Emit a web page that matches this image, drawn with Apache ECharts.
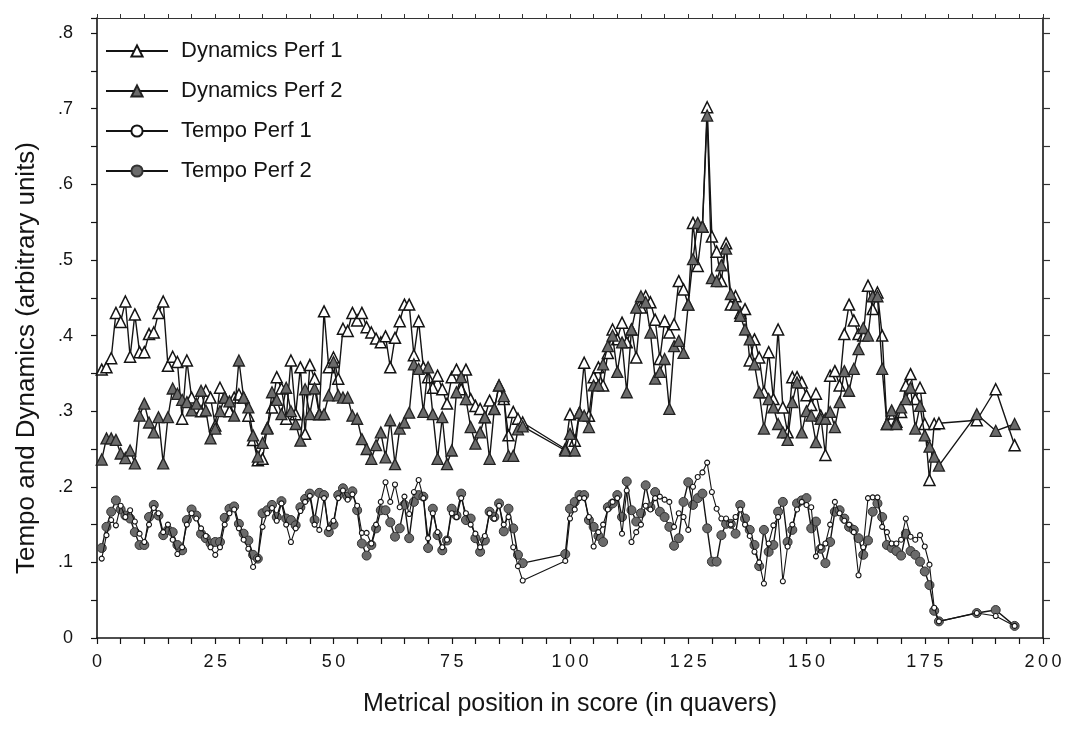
<!DOCTYPE html>
<html><head><meta charset="utf-8">
<script src="https://cdn.jsdelivr.net/npm/echarts@6/dist/echarts.min.js"></script>
<style>html,body{margin:0;padding:0;background:#fff}#c{width:1075px;height:731px}</style>
</head><body><div id="c"></div><script>
// Metrical positions (quavers)
const positions = [
1,2,3,4,5,6,7,8,9,10,
11,12,13,14,15,16,17,18,19,20,
21,22,23,24,25,26,27,28,29,30,
31,32,33,34,35,36,37,38,39,40,
41,42,43,44,45,46,47,48,49,50,
51,52,53,54,55,56,57,58,59,60,
61,62,63,64,65,66,67,68,69,70,
71,72,73,74,75,76,77,78,79,80,
81,82,83,84,85,86,87,88,89,90,
99,100,101,102,103,104,105,106,107,108,
109,110,111,112,113,114,115,116,117,118,
119,120,121,122,123,124,125,126,127,128,
129,130,131,132,133,134,135,136,137,138,
139,140,141,142,143,144,145,146,147,148,
149,150,151,152,153,154,155,156,157,158,
159,160,161,162,163,164,165,166,167,168,
169,170,171,172,173,174,175,176,177,178,
186,190,194];

const dynamicsPerf1 = [
.355,.358,.370,.430,.418,.445,.372,.428,.378,.378,
.402,.404,.430,.445,.360,.372,.365,.290,.367,.318,
.305,.300,.327,.318,.281,.331,.318,.300,.318,.322,
.318,.294,.262,.235,.237,.278,.305,.345,.330,.290,
.367,.296,.358,.270,.361,.343,.296,.432,.358,.371,
.343,.409,.406,.430,.420,.430,.411,.404,.396,.391,
.399,.358,.397,.419,.441,.441,.374,.419,.358,.345,
.331,.347,.329,.310,.345,.355,.329,.355,.316,.307,
.303,.292,.314,.303,.334,.316,.268,.299,.290,.285,
.250,.296,.261,.298,.364,.294,.345,.358,.334,.377,
.408,.395,.417,.391,.408,.371,.437,.452,.444,.421,
.369,.419,.404,.415,.472,.461,.441,.549,.492,.544,
.702,.531,.511,.472,.522,.441,.452,.430,.435,.367,
.395,.371,.325,.378,.316,.408,.305,.272,.345,.345,
.338,.321,.308,.323,.294,.242,.347,.353,.334,.402,
.441,.420,.402,.400,.466,.435,.457,.400,.283,.297,
.286,.299,.334,.349,.316,.331,.283,.209,.283,.284,
.288,.329,.255];

const dynamicsPerf2 = [
.236,.264,.264,.262,.244,.238,.248,.231,.294,.310,
.285,.272,.292,.231,.292,.330,.323,.315,.312,.301,
.310,.327,.301,.264,.277,.300,.318,.313,.294,.367,
.318,.305,.268,.240,.258,.277,.325,.315,.296,.331,
.300,.283,.261,.329,.296,.330,.296,.296,.321,.365,
.321,.318,.318,.294,.290,.263,.250,.237,.255,.272,
.239,.288,.230,.277,.285,.298,.362,.356,.299,.358,
.296,.237,.292,.230,.248,.325,.345,.316,.279,.257,
.272,.292,.237,.303,.334,.320,.241,.241,.276,.280,
.248,.270,.248,.298,.294,.279,.334,.334,.362,.386,
.400,.352,.391,.325,.408,.437,.452,.444,.404,.343,
.352,.369,.303,.386,.393,.377,.441,.501,.549,.544,
.691,.476,.472,.493,.515,.455,.441,.426,.408,.395,
.362,.325,.277,.316,.305,.283,.272,.262,.312,.338,
.272,.300,.294,.259,.290,.290,.299,.279,.312,.353,
.327,.356,.382,.410,.400,.452,.452,.356,.283,.301,
.283,.305,.316,.331,.277,.307,.268,.253,.240,.228,
.296,.274,.283];

const tempoPerf1 = [
.105,.136,.156,.149,.175,.160,.169,.154,.138,.127,
.150,.172,.165,.140,.150,.130,.111,.120,.150,.165,
.158,.145,.135,.120,.110,.120,.150,.165,.170,.145,
.130,.118,.094,.105,.147,.165,.172,.155,.178,.150,
.127,.145,.168,.180,.188,.150,.143,.185,.145,.155,
.185,.195,.183,.190,.175,.139,.139,.125,.150,.180,
.206,.180,.203,.173,.187,.164,.193,.209,.185,.132,
.165,.140,.120,.130,.165,.160,.185,.165,.150,.138,
.120,.135,.165,.158,.175,.150,.160,.120,.095,.076,
.102,.158,.170,.185,.185,.160,.121,.140,.150,.170,
.180,.185,.138,.195,.127,.140,.150,.175,.170,.185,
.187,.183,.180,.147,.165,.160,.143,.200,.213,.219,
.232,.193,.171,.158,.158,.150,.160,.170,.150,.135,
.114,.100,.072,.125,.149,.160,.075,.121,.150,.170,
.180,.176,.173,.108,.120,.125,.150,.180,.165,.155,
.150,.140,.083,.120,.185,.186,.186,.147,.140,.125,
.125,.130,.158,.134,.130,.136,.121,.097,.040,.022,
.033,.029,.016];

const tempoPerf2 = [
.119,.147,.167,.182,.170,.162,.158,.140,.123,.123,
.160,.176,.162,.136,.143,.140,.123,.116,.156,.170,
.162,.138,.132,.125,.127,.127,.159,.171,.174,.151,
.138,.129,.110,.105,.165,.169,.176,.160,.181,.158,
.156,.149,.173,.184,.191,.156,.192,.189,.140,.150,
.189,.198,.187,.194,.169,.125,.109,.123,.145,.169,
.169,.153,.134,.145,.176,.132,.180,.189,.187,.119,
.171,.136,.116,.129,.171,.162,.191,.156,.158,.132,
.114,.129,.167,.160,.178,.141,.171,.145,.110,.099,
.111,.171,.180,.189,.189,.156,.147,.135,.127,.173,
.178,.189,.160,.207,.169,.154,.165,.202,.173,.193,
.167,.160,.147,.122,.132,.180,.206,.176,.185,.191,
.145,.101,.101,.136,.151,.151,.138,.176,.158,.143,
.123,.095,.143,.114,.123,.167,.180,.127,.143,.178,
.182,.185,.145,.154,.118,.099,.127,.167,.169,.158,
.147,.143,.132,.110,.129,.167,.178,.160,.123,.119,
.115,.109,.138,.115,.110,.101,.088,.070,.036,.022,
.033,.037,.016];

const seriesNames = ['Dynamics Perf 1','Dynamics Perf 2','Tempo Perf 1','Tempo Perf 2'];
const xTickLabels = [0,25,50,75,100,125,150,175,200];
const yTickLabels = ['0','.1','.2','.3','.4','.5','.6','.7','.8'];

const F = '"Liberation Sans", Arial, Helvetica, sans-serif';
const INK = '#141414';
const GREY = '#6b6b6b';
function pairs(vals){ return positions.map((x,i)=>[x, vals[i]]); }
function spaced(s){ return String(s).split('').join('\u2009'); }

const chart = echarts.init(document.getElementById('c'), null, {renderer:'canvas'});
const option = {
  animation:false,
  backgroundColor:'#ffffff',
  textStyle:{fontFamily:F},
  grid:{left:97,right:32,top:18,bottom:93},
  legend:{
    orient:'vertical', left:100, top:35, itemWidth:62, itemHeight:14, itemGap:18,
    data:seriesNames,
    textStyle:{fontSize:22,color:INK,fontFamily:F,padding:[0,0,0,8]}
  },
  xAxis:[{
    type:'value', min:0, max:200, interval:5, position:'bottom',
    axisLine:{show:true,onZero:false,lineStyle:{color:INK,width:1.6}},
    axisTick:{show:true,length:6,lineStyle:{color:INK,width:1.2}},
    axisLabel:{fontSize:18,color:INK,fontFamily:F,margin:15,
      formatter:v=> xTickLabels.indexOf(v)>=0 ? spaced(v) : ''},
    splitLine:{show:false},
    name:'Metrical position in score (in quavers)', nameLocation:'middle', nameGap:54,
    nameTextStyle:{fontSize:25,color:INK,fontFamily:F}
  },{
    type:'value', min:0, max:200, interval:5, position:'top',
    axisLine:{show:true,onZero:false,lineStyle:{color:'#333',width:1.2}},
    axisTick:{show:true,length:4,lineStyle:{color:'#333',width:1}},
    axisLabel:{show:false}, splitLine:{show:false}
  }],
  yAxis:[{
    type:'value', min:0, max:0.82, interval:0.05, position:'left',
    axisLine:{show:true,onZero:false,lineStyle:{color:INK,width:1.6}},
    axisTick:{show:true,length:6,lineStyle:{color:INK,width:1.2}},
    axisLabel:{fontSize:18,color:INK,fontFamily:F,margin:24,
      formatter:v=>{const t=Math.round(v*100); if(t%10!==0||t>80) return ''; return yTickLabels[t/10];}},
    splitLine:{show:false},
    name:'Tempo and Dynamics (arbitrary units)', nameLocation:'middle', nameGap:57,
    nameTextStyle:{fontSize:26,color:INK,fontFamily:F,padding:[0,60,0,0]}
  },{
    type:'value', min:0, max:0.82, interval:0.05, position:'right',
    axisLine:{show:true,onZero:false,lineStyle:{color:INK,width:1.6}},
    axisTick:{show:true,length:7,lineStyle:{color:'#333',width:1.2}},
    axisLabel:{show:false}, splitLine:{show:false}
  }],
  series:[
    {type:'line', name:seriesNames[0], data:pairs(dynamicsPerf1), showAllSymbol:true,
     symbol:'triangle', symbolSize:11, z:3,
     lineStyle:{color:INK,width:1.4}, itemStyle:{color:'#fff',borderColor:INK,borderWidth:1.5}},
    {type:'line', name:seriesNames[1], data:pairs(dynamicsPerf2), showAllSymbol:true,
     symbol:'triangle', symbolSize:11, z:4,
     lineStyle:{color:INK,width:1.4}, itemStyle:{color:GREY,borderColor:'#222',borderWidth:1.3}},
    {type:'line', name:seriesNames[2], data:pairs(tempoPerf1), showAllSymbol:true,
     symbol:'circle', symbolSize:5, z:5,
     lineStyle:{color:INK,width:1.1}, itemStyle:{color:'#fff',borderColor:INK,borderWidth:1.1}},
    {type:'line', name:seriesNames[3], data:pairs(tempoPerf2), showAllSymbol:true,
     symbol:'circle', symbolSize:9, z:4,
     lineStyle:{color:INK,width:1.4}, itemStyle:{color:GREY,borderColor:'#333',borderWidth:1}}
  ]
};
chart.setOption(option);
</script></body></html>
